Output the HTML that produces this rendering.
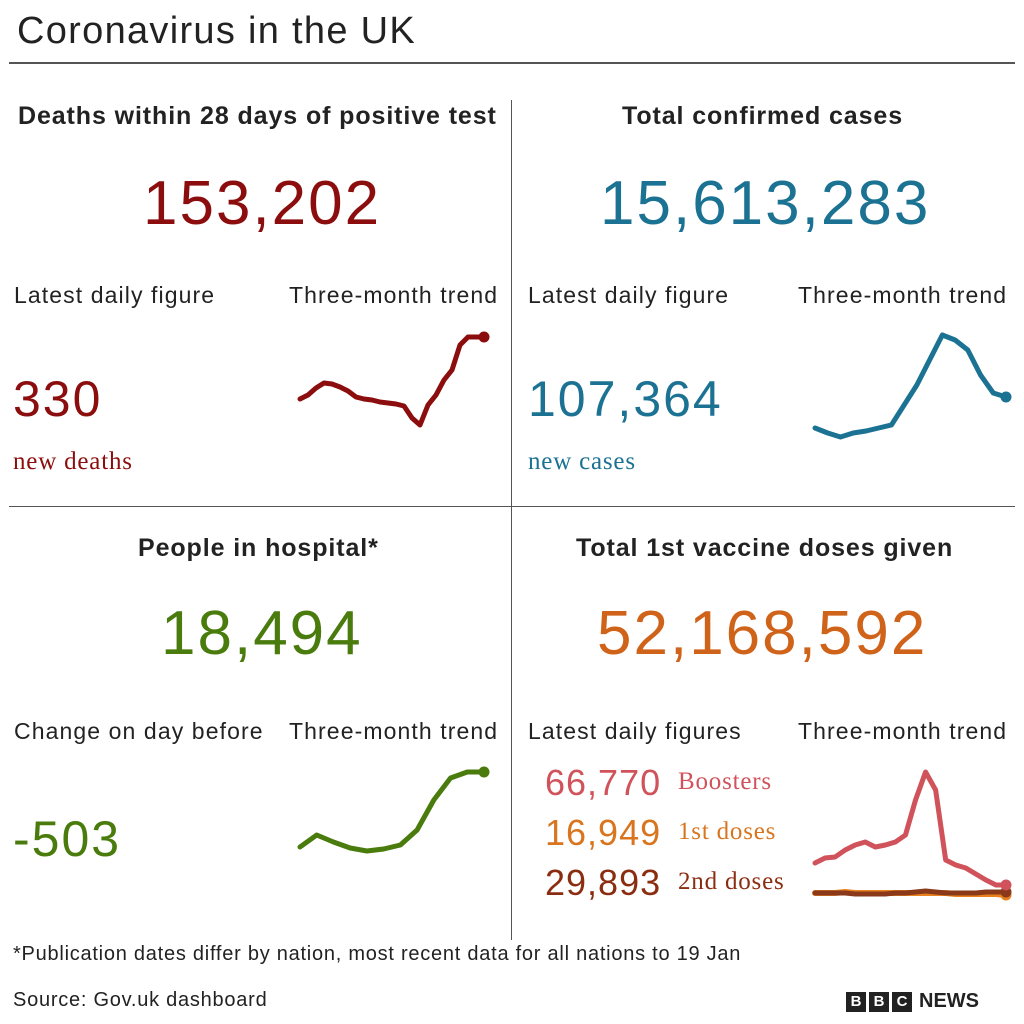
<!DOCTYPE html>
<html><head><meta charset="utf-8"><style>
body{margin:0;width:1024px;height:1024px;background:#fff;font-family:"Liberation Sans",sans-serif;position:relative;overflow:hidden;color:#222}
.t{position:absolute;white-space:nowrap}
.h{font-weight:bold;font-size:25px;letter-spacing:0.9px;color:#222}
.big{font-size:62px;letter-spacing:2px}
.lab{font-size:23px;letter-spacing:1.1px;color:#222}
.num{font-size:50px;letter-spacing:2px}
.small{font-family:"Liberation Serif",serif;font-size:25px;letter-spacing:0.8px}
.vn{font-size:36px;letter-spacing:1px}
</style></head><body>
<div class="t" style="left:17px;top:10px;font-size:38px;letter-spacing:1.3px">Coronavirus in the UK</div>
<div style="position:absolute;left:9px;top:62px;width:1006px;height:2px;background:#555"></div>
<div style="position:absolute;left:511px;top:100px;width:1px;height:840px;background:#555"></div>
<div style="position:absolute;left:9px;top:506px;width:1006px;height:1px;background:#555"></div>

<div class="t h" style="left:18px;top:102px">Deaths within 28 days of positive test</div>
<div class="t big" style="left:143px;top:168px;color:#8c0d0d">153,202</div>
<div class="t lab" style="left:14px;top:282px">Latest daily figure</div>
<div class="t lab" style="left:289px;top:282px">Three-month trend</div>
<div class="t num" style="left:13px;top:370px;color:#8c0d0d">330</div>
<div class="t small" style="left:13px;top:448px;color:#8c0d0d">new deaths</div>

<div class="t h" style="left:622px;top:102px">Total confirmed cases</div>
<div class="t big" style="left:600px;top:168px;color:#1b7293">15,613,283</div>
<div class="t lab" style="left:528px;top:282px">Latest daily figure</div>
<div class="t lab" style="left:798px;top:282px">Three-month trend</div>
<div class="t num" style="left:528px;top:370px;color:#1b7293">107,364</div>
<div class="t small" style="left:528px;top:448px;color:#1b7293">new cases</div>

<div class="t h" style="left:138px;top:534px">People in hospital*</div>
<div class="t big" style="left:161px;top:598px;color:#4a7b0d">18,494</div>
<div class="t lab" style="left:14px;top:718px">Change on day before</div>
<div class="t lab" style="left:289px;top:718px">Three-month trend</div>
<div class="t num" style="left:13px;top:810px;color:#4a7b0d">-503</div>

<div class="t h" style="left:576px;top:534px">Total 1st vaccine doses given</div>
<div class="t big" style="left:597px;top:598px;color:#d0631a">52,168,592</div>
<div class="t lab" style="left:528px;top:718px">Latest daily figures</div>
<div class="t lab" style="left:798px;top:718px">Three-month trend</div>
<div class="t vn" style="left:545px;top:762px;color:#d0525a">66,770</div>
<div class="t small" style="left:678px;top:768px;color:#d0525a">Boosters</div>
<div class="t vn" style="left:545px;top:812px;color:#d8751e">16,949</div>
<div class="t small" style="left:678px;top:818px;color:#d8751e">1st doses</div>
<div class="t vn" style="left:545px;top:862px;color:#8a2d10">29,893</div>
<div class="t small" style="left:678px;top:868px;color:#8a2d10">2nd doses</div>

<div class="t" style="left:13px;top:943px;font-size:20px;letter-spacing:0.75px">*Publication dates differ by nation, most recent data for all nations to 19 Jan</div>
<div class="t" style="left:13px;top:989px;font-size:20px;letter-spacing:0.75px">Source: Gov.uk dashboard</div>
<div style="position:absolute;left:846px;top:990px;display:flex;gap:3px;align-items:center">
<span style="background:#222;color:#fff;font-weight:bold;font-size:15px;width:20px;height:20px;text-align:center;line-height:20px">B</span>
<span style="background:#222;color:#fff;font-weight:bold;font-size:15px;width:20px;height:20px;text-align:center;line-height:20px">B</span>
<span style="background:#222;color:#fff;font-weight:bold;font-size:15px;width:20px;height:20px;text-align:center;line-height:20px">C</span>
<span style="font-weight:bold;font-size:20px;margin-left:4px">NEWS</span></div>

<svg id="spark" width="1024" height="1024" style="position:absolute;left:0;top:0"></svg>
<script>
const deathsValues=[41,45,52,57,56,53,49,43,41,40,38,37,36,34,22,15,35,45,60,70,95,103,103,103];
const hospitalValues=[53,65,58,52,49,51,55,70,100,122,128,128];
const casesValues=[72,67,63,67,69,72,75,95,115,140,165,160,150,125,107,103];
const boosterValues=[37,42,43,50,55,58,53,55,58,65,100,128,110,40,35,32,26,20,15,15];
const firstDoseValues=[7,7,7,8,7,7,7,7,7,7,7,7,7,7,6,6,6,6,6,5];
const secondDoseValues=[7,7,7,7,6,6,6,6,7,7,8,9,8,7,7,7,7,8,8,8];
const svg=document.getElementById('spark');
const NS='http://www.w3.org/2000/svg';
function line(vals,x0,x1,yBase,yScale,color,name,w){
  const xs=i=>x0+(x1-x0)*i/(vals.length-1);
  const ys=v=>yBase-v*yScale;
  const p=document.createElementNS(NS,'polyline');
  
  
  p.setAttribute('points',vals.map((v,i)=>xs(i)+','+ys(v)).join(' '));
  p.setAttribute('fill','none');p.setAttribute('stroke',color);p.setAttribute('stroke-width',w||5);
  p.setAttribute('stroke-linejoin','round');p.setAttribute('stroke-linecap','round');
  svg.appendChild(p);
  const c=document.createElementNS(NS,'circle');
  
  
  c.setAttribute('cx',x1);c.setAttribute('cy',ys(vals[vals.length-1]));c.setAttribute('r',5.5);c.setAttribute('fill',color);
  svg.appendChild(c);
}
line(deathsValues,300,484,440,1,'#8c0d0d','deaths-trend-line');
line(hospitalValues,300,484,900,1,'#4a7b0d','hospital-trend-line');
line(casesValues,815,1006,500,1,'#1b7293','cases-trend-line');
line(firstDoseValues,815,1006,900,1,'#e8821e','first-doses-trend-line',6);
line(secondDoseValues,815,1006,900,1,'#8a3a1a','second-doses-trend-line',5);
line(boosterValues,815,1006,900,1,'#d0525a','boosters-trend-line');
</script>
</body></html>
